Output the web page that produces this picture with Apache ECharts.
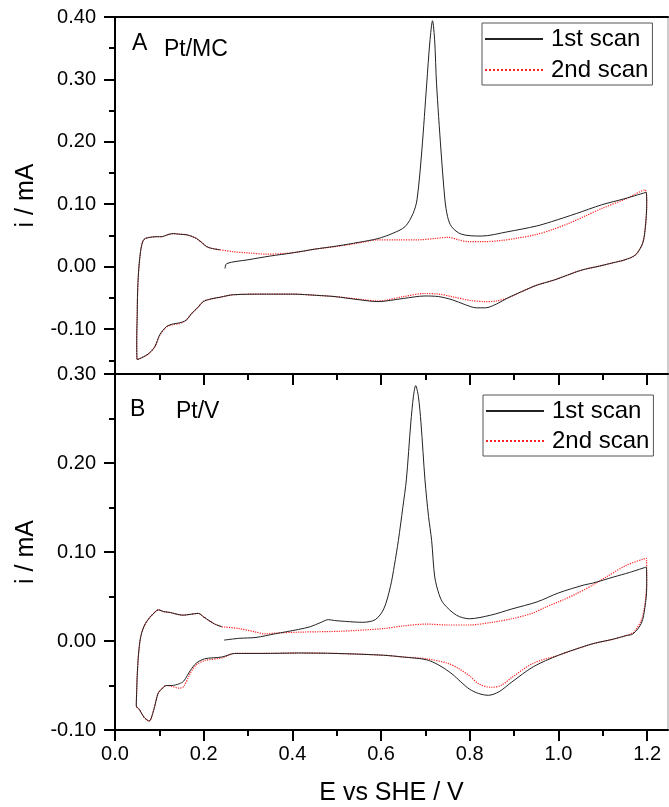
<!DOCTYPE html>
<html>
<head>
<meta charset="utf-8">
<script src="https://cdn.jsdelivr.net/npm/echarts@6/dist/echarts.min.js"></script>
<style>
html,body{margin:0;padding:0;background:#fff;}
#chart{width:669px;height:807px;}
</style>
</head>
<body>
<div id="chart"></div>
<script>
// ---------- DATA ----------
const seriesNames = ['1st scan', '2nd scan'];
const panelLabels = ['A', 'B'];
const panelSamples = ['Pt/MC', 'Pt/V'];
const xTickMajor = [0, 0.2, 0.4, 0.6, 0.8, 1.0, 1.2];
const xTickMinor = [0.1, 0.3, 0.5, 0.7, 0.9, 1.1];
const yTickMajorA = [-0.1, 0, 0.1, 0.2, 0.3, 0.4];
const yTickMinorA = [-0.15, -0.05, 0.05, 0.15, 0.25, 0.35];
const yTickMajorB = [-0.1, 0, 0.1, 0.2, 0.3];
const yTickMinorB = [-0.05, 0.05, 0.15, 0.25];
const xRange = [0, 1.247];
const yRangeA = [-0.172, 0.40];
const yRangeB = [-0.10, 0.30];

// Panel A, 1st scan (E / V, i / mA)
const scanA1 = [
[0.248,-0.003],[0.252,0.005],[0.30,0.011],[0.35,0.017],[0.40,0.022],[0.45,0.028],[0.50,0.033],[0.55,0.039],[0.593,0.045],[0.625,0.053],[0.654,0.064],[0.672,0.085],[0.681,0.107],[0.692,0.187],[0.703,0.294],[0.710,0.360],[0.716,0.394],[0.721,0.360],[0.725,0.294],[0.735,0.187],[0.744,0.107],[0.750,0.080],[0.759,0.064],[0.781,0.052],[0.826,0.049],[0.886,0.056],[0.950,0.065],[0.984,0.072],[1.040,0.085],[1.097,0.099],[1.150,0.109],[1.198,0.119],
[1.199,0.100],[1.196,0.064],[1.190,0.038],[1.174,0.019],[1.150,0.011],[1.122,0.006],[1.093,0.001],[1.050,-0.006],[0.992,-0.021],[0.950,-0.030],[0.917,-0.040],[0.886,-0.050],[0.860,-0.060],[0.835,-0.066],[0.815,-0.066],[0.790,-0.061],[0.760,-0.053],[0.730,-0.048],[0.699,-0.047],[0.650,-0.051],[0.593,-0.056],[0.550,-0.053],[0.496,-0.048],[0.455,-0.046],[0.400,-0.044],[0.342,-0.044],[0.267,-0.045],[0.237,-0.049],[0.215,-0.052],[0.199,-0.056],[0.186,-0.066],[0.173,-0.075],[0.160,-0.086],[0.146,-0.090],[0.130,-0.092],[0.116,-0.096],[0.101,-0.109],[0.090,-0.128],[0.075,-0.140],[0.060,-0.146],[0.050,-0.149],
[0.049,-0.120],[0.050,-0.080],[0.051,-0.040],[0.053,-0.010],[0.056,0.015],[0.060,0.034],[0.066,0.044],[0.079,0.047],[0.095,0.048],[0.105,0.048],[0.118,0.051],[0.131,0.053],[0.145,0.052],[0.162,0.051],[0.175,0.048],[0.184,0.045],[0.195,0.039],[0.207,0.032],[0.220,0.029],[0.237,0.027]
];
// Panel A, 2nd scan
const scanA2 = [
[0.237,0.027],[0.266,0.024],[0.300,0.022],[0.342,0.020],[0.380,0.021],[0.417,0.024],[0.450,0.028],[0.496,0.032],[0.550,0.038],[0.594,0.043],[0.640,0.043],[0.683,0.043],[0.720,0.045],[0.751,0.047],[0.775,0.043],[0.797,0.040],[0.830,0.040],[0.872,0.042],[0.910,0.046],[0.947,0.051],[0.985,0.059],[1.022,0.069],[1.060,0.081],[1.097,0.093],[1.150,0.108],[1.195,0.123],
[1.199,0.100],[1.196,0.064],[1.190,0.038],[1.174,0.019],[1.150,0.011],[1.122,0.006],[1.093,0.001],[1.050,-0.006],[0.992,-0.021],[0.950,-0.030],[0.917,-0.040],[0.886,-0.050],[0.860,-0.055],[0.835,-0.056],[0.800,-0.054],[0.760,-0.048],[0.730,-0.044],[0.699,-0.043],[0.650,-0.048],[0.593,-0.055],[0.550,-0.052],[0.496,-0.048],[0.455,-0.046],[0.400,-0.044],[0.342,-0.044],[0.267,-0.045],[0.237,-0.049],[0.215,-0.052],[0.199,-0.056],[0.186,-0.066],[0.173,-0.075],[0.160,-0.086],[0.146,-0.091],[0.130,-0.093],[0.116,-0.097],[0.101,-0.110],[0.090,-0.128],[0.075,-0.140],[0.060,-0.146],[0.050,-0.149],
[0.049,-0.120],[0.050,-0.080],[0.051,-0.040],[0.053,-0.010],[0.056,0.015],[0.060,0.034],[0.066,0.044],[0.079,0.047],[0.095,0.048],[0.105,0.048],[0.118,0.051],[0.131,0.053],[0.145,0.052],[0.162,0.051],[0.175,0.048],[0.184,0.045],[0.195,0.039],[0.207,0.032],[0.220,0.029],[0.237,0.027]
];
// Panel B, 1st scan
const scanB1 = [
[0.246,0.001],[0.280,0.003],[0.318,0.004],[0.360,0.008],[0.414,0.013],[0.440,0.016],[0.465,0.021],[0.481,0.024],[0.495,0.023],[0.520,0.022],[0.558,0.021],[0.587,0.024],[0.606,0.036],[0.621,0.061],[0.630,0.085],[0.639,0.113],[0.649,0.150],[0.657,0.181],[0.667,0.245],[0.673,0.275],[0.678,0.287],[0.684,0.275],[0.690,0.245],[0.699,0.181],[0.707,0.140],[0.714,0.113],[0.721,0.072],[0.731,0.052],[0.741,0.042],[0.770,0.029],[0.799,0.025],[0.847,0.029],[0.895,0.036],[0.952,0.044],[1.000,0.054],[1.058,0.063],[1.077,0.065],[1.125,0.072],[1.160,0.077],[1.198,0.083],
[1.199,0.060],[1.195,0.038],[1.187,0.020],[1.168,0.008],[1.152,0.006],[1.123,0.002],[1.078,-0.003],[1.040,-0.009],[1.000,-0.016],[0.943,-0.029],[0.895,-0.046],[0.866,-0.057],[0.842,-0.061],[0.820,-0.059],[0.799,-0.054],[0.780,-0.046],[0.760,-0.037],[0.730,-0.027],[0.702,-0.021],[0.650,-0.018],[0.606,-0.016],[0.500,-0.014],[0.414,-0.0135],[0.330,-0.014],[0.270,-0.014],[0.241,-0.018],[0.202,-0.020],[0.183,-0.025],[0.170,-0.033],[0.155,-0.045],[0.145,-0.048],[0.128,-0.050],[0.116,-0.050],[0.105,-0.054],[0.097,-0.059],[0.087,-0.078],[0.077,-0.090],[0.068,-0.087],[0.063,-0.084],[0.055,-0.077],[0.048,-0.073],
[0.049,-0.055],[0.050,-0.040],[0.053,-0.015],[0.058,0.005],[0.065,0.016],[0.073,0.023],[0.085,0.030],[0.098,0.035],[0.110,0.033],[0.125,0.032],[0.140,0.030],[0.154,0.029],[0.170,0.030],[0.188,0.031],[0.200,0.027],[0.212,0.023],[0.225,0.019],[0.241,0.016]
];
// Panel B, 2nd scan
const scanB2 = [
[0.241,0.016],[0.279,0.014],[0.318,0.010],[0.337,0.008],[0.366,0.009],[0.420,0.010],[0.510,0.011],[0.606,0.014],[0.650,0.017],[0.702,0.019],[0.750,0.018],[0.799,0.018],[0.850,0.021],[0.895,0.025],[0.940,0.031],[0.971,0.038],[1.000,0.044],[1.040,0.053],[1.078,0.063],[1.108,0.072],[1.153,0.085],[1.198,0.093],
[1.199,0.070],[1.196,0.045],[1.188,0.025],[1.170,0.010],[1.152,0.006],[1.123,0.002],[1.078,-0.003],[1.040,-0.009],[1.000,-0.016],[0.943,-0.025],[0.895,-0.041],[0.870,-0.050],[0.847,-0.052],[0.820,-0.048],[0.799,-0.039],[0.775,-0.031],[0.750,-0.025],[0.702,-0.020],[0.650,-0.018],[0.606,-0.016],[0.500,-0.014],[0.414,-0.0135],[0.330,-0.014],[0.270,-0.014],[0.241,-0.019],[0.202,-0.022],[0.183,-0.027],[0.170,-0.036],[0.155,-0.051],[0.145,-0.053],[0.128,-0.051],[0.116,-0.050],[0.105,-0.054],[0.097,-0.059],[0.087,-0.078],[0.077,-0.090],[0.068,-0.087],[0.063,-0.084],[0.055,-0.077],[0.048,-0.073],
[0.049,-0.055],[0.050,-0.040],[0.053,-0.015],[0.058,0.005],[0.065,0.016],[0.073,0.023],[0.085,0.030],[0.098,0.035],[0.110,0.033],[0.125,0.032],[0.140,0.030],[0.154,0.029],[0.170,0.030],[0.188,0.031],[0.200,0.027],[0.212,0.023],[0.225,0.019],[0.241,0.016]
];

// ---------- CHART ----------
const FONT = '"Liberation Sans", Arial, sans-serif';
const chart = echarts.init(document.getElementById('chart'), null, {renderer: 'canvas'});

const gridA = {left: 115, top: 17, width: 553, height: 357};
const gridB = {left: 115, top: 374, width: 553, height: 356};
const black2 = {color: '#000', width: 2};

function xBase(gridIndex) {
  return {type: 'value', gridIndex, min: xRange[0], max: xRange[1], splitLine: {show: false}, z: 10};
}
function yBase(gridIndex, range) {
  return {type: 'value', gridIndex, min: range[0], max: range[1], splitLine: {show: false}, position: 'left', z: 10};
}

const xAxes = [
  // 0: panel A bottom, major ticks
  Object.assign(xBase(0), {
    position: 'bottom',
    axisLine: {show: true, onZero: false, lineStyle: black2},
    axisTick: {show: true, customValues: xTickMajor, length: 11, lineStyle: black2},
    axisLabel: {show: false}
  }),
  // 1: panel A top border
  Object.assign(xBase(0), {
    position: 'top',
    axisLine: {show: true, onZero: false, lineStyle: black2},
    axisTick: {show: false}, axisLabel: {show: false}
  }),
  // 2: panel B bottom, major ticks + labels
  Object.assign(xBase(1), {
    position: 'bottom',
    axisLine: {show: true, onZero: false, lineStyle: black2},
    axisTick: {show: true, customValues: xTickMajor, length: 11, lineStyle: black2},
    axisLabel: {show: true, customValues: xTickMajor, formatter: v => v.toFixed(1), fontSize: 20, fontFamily: FONT, color: '#000', margin: 14},
    name: 'E vs SHE / V', nameLocation: 'middle', nameGap: 51,
    nameTextStyle: {fontSize: 25, fontFamily: FONT, color: '#000'}
  }),
  // 3: panel A minor ticks (overlay grid)
  Object.assign(xBase(2), {
    position: 'bottom',
    axisLine: {show: false, onZero: false},
    axisTick: {show: true, customValues: xTickMinor, length: 6, lineStyle: black2},
    axisLabel: {show: false}
  }),
  // 4: panel B minor ticks (overlay grid)
  Object.assign(xBase(3), {
    position: 'bottom',
    axisLine: {show: false, onZero: false},
    axisTick: {show: true, customValues: xTickMinor, length: 6, lineStyle: black2},
    axisLabel: {show: false}
  })
];

function yMain(gridIndex, range, majors) {
  return Object.assign(yBase(gridIndex, range), {
    axisLine: {show: true, onZero: false, lineStyle: black2},
    axisTick: {show: true, customValues: majors, length: 11, lineStyle: black2},
    axisLabel: {show: true, customValues: majors, formatter: v => v.toFixed(2), fontSize: 20, fontFamily: FONT, color: '#000', margin: 19},
    name: 'i / mA', nameLocation: 'middle', nameGap: 76,
    nameTextStyle: {fontSize: 25, fontFamily: FONT, color: '#000'}
  });
}
function yMinor(gridIndex, range, minors) {
  return Object.assign(yBase(gridIndex, range), {
    axisLine: {show: false, onZero: false},
    axisTick: {show: true, customValues: minors, length: 6, lineStyle: black2},
    axisLabel: {show: false}
  });
}
const yAxes = [
  yMain(0, yRangeA, yTickMajorA),   // 0
  yMain(1, yRangeB, yTickMajorB),   // 1
  yMinor(2, yRangeA, yTickMinorA),  // 2
  yMinor(3, yRangeB, yTickMinorB)   // 3
];

const solid = {color: '#222', width: 1, type: 'solid'};
const dotted = {color: '#ff2020', width: 1.2, type: 'dotted'};

function lineSeries(name, data, xi, yi, style, z) {
  return {
    name, type: 'line', data, xAxisIndex: xi, yAxisIndex: yi,
    symbol: 'none', smooth: 0.3, lineStyle: style, itemStyle: {color: style.color},
    z, animation: false, clip: true
  };
}

const legendCommon = {
  orient: 'vertical', itemWidth: 58, itemHeight: 14, itemGap: 7,
  borderColor: '#555', borderWidth: 1, backgroundColor: '#fff',
  padding: [4, 4, 3, 2], selectedMode: false,
  itemStyle: {opacity: 0},
  textStyle: {fontSize: 24, fontFamily: FONT, color: '#000', lineHeight: 24, padding: [0, 0, 0, 3]},
  data: seriesNames
};

const gridCommon = {containLabel: false, outerBoundsMode: 'none'};

const option = {
  backgroundColor: '#fff',
  animation: false,
  grid: [
    Object.assign({show: true, borderColor: '#999', borderWidth: 1}, gridCommon, gridA),
    Object.assign({show: true, borderColor: '#999', borderWidth: 1}, gridCommon, gridB),
    Object.assign({show: false}, gridCommon, gridA),
    Object.assign({show: false}, gridCommon, gridB)
  ],
  xAxis: xAxes,
  yAxis: yAxes,
  legend: [
    Object.assign({}, legendCommon, {left: 482, top: 23}),
    Object.assign({}, legendCommon, {left: 483, top: 395, itemGap: 6})
  ],
  graphic: [
    {type: 'text', left: 132, top: 32, style: {text: panelLabels[0], font: '23px ' + FONT, fill: '#000'}},
    {type: 'text', left: 164, top: 38, style: {text: panelSamples[0], font: '23px ' + FONT, fill: '#000'}},
    {type: 'text', left: 130, top: 398, style: {text: panelLabels[1], font: '23px ' + FONT, fill: '#000'}},
    {type: 'text', left: 176, top: 400, style: {text: panelSamples[1], font: '23px ' + FONT, fill: '#000'}}
  ],
  series: [
    lineSeries(seriesNames[1], scanA2, 0, 0, dotted, 2),
    lineSeries(seriesNames[0], scanA1, 0, 0, solid, 3),
    lineSeries(seriesNames[1], scanB2, 2, 1, dotted, 2),
    lineSeries(seriesNames[0], scanB1, 2, 1, solid, 3)
  ]
};
chart.setOption(option);
</script>
</body>
</html>
